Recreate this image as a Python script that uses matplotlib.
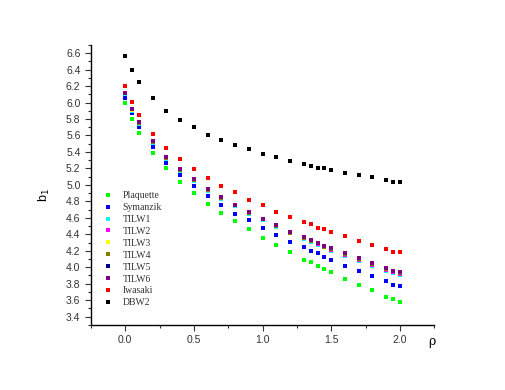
import matplotlib
matplotlib.use("Agg")
import matplotlib.pyplot as plt
from matplotlib.ticker import MultipleLocator

# rho values shared by all series
rho = [0, 0.05, 0.1, 0.2, 0.3, 0.4, 0.5, 0.6, 0.7, 0.8, 0.9, 1.0, 1.1, 1.2,
       1.3, 1.35, 1.4, 1.45, 1.5, 1.6, 1.7, 1.8, 1.9, 1.95, 2.0]

plaquette = [6.00, 5.80, 5.63, 5.39, 5.20, 5.03, 4.90, 4.77, 4.66, 4.56, 4.46, 4.36, 4.27,
             4.18, 4.09, 4.06, 4.02, 3.98, 3.94, 3.86, 3.79, 3.72, 3.64, 3.61, 3.58]
symanzik = [6.06, 5.87, 5.70, 5.46, 5.27, 5.12, 4.99, 4.86, 4.76, 4.65, 4.57, 4.48, 4.39,
            4.31, 4.24, 4.20, 4.17, 4.13, 4.09, 4.02, 3.96, 3.89, 3.83, 3.79, 3.77]
tilw1 = [6.10, 5.90, 5.74, 5.51, 5.32, 5.17, 5.05, 4.93, 4.83, 4.74, 4.65, 4.57, 4.49,
         4.41, 4.34, 4.31, 4.27, 4.24, 4.20, 4.14, 4.08, 4.02, 3.96, 3.93, 3.91]
tilw2 = [6.11, 5.91, 5.75, 5.52, 5.33, 5.18, 5.06, 4.94, 4.84, 4.75, 4.66, 4.58, 4.50,
         4.42, 4.35, 4.32, 4.28, 4.25, 4.21, 4.15, 4.09, 4.03, 3.97, 3.94, 3.92]
tilw3 = [6.11, 5.91, 5.75, 5.52, 5.33, 5.18, 5.06, 4.94, 4.84, 4.75, 4.66, 4.58, 4.50,
         4.42, 4.36, 4.32, 4.29, 4.25, 4.22, 4.16, 4.10, 4.04, 3.98, 3.95, 3.93]
tilw4 = [6.12, 5.92, 5.75, 5.52, 5.33, 5.18, 5.06, 4.94, 4.84, 4.75, 4.66, 4.58, 4.50,
         4.42, 4.36, 4.32, 4.29, 4.25, 4.22, 4.16, 4.10, 4.04, 3.98, 3.95, 3.93]
tilw5 = [6.12, 5.92, 5.76, 5.53, 5.34, 5.19, 5.07, 4.95, 4.85, 4.76, 4.67, 4.59, 4.51,
         4.43, 4.37, 4.33, 4.30, 4.26, 4.23, 4.17, 4.11, 4.05, 3.99, 3.96, 3.94]
tilw6 = [6.12, 5.92, 5.76, 5.53, 5.34, 5.19, 5.07, 4.95, 4.85, 4.76, 4.67, 4.59, 4.51,
         4.43, 4.37, 4.33, 4.30, 4.26, 4.23, 4.17, 4.11, 4.05, 3.99, 3.96, 3.94]
iwasaki = [6.20, 6.01, 5.85, 5.62, 5.45, 5.32, 5.19, 5.08, 4.99, 4.91, 4.82, 4.75, 4.67,
           4.61, 4.55, 4.52, 4.48, 4.46, 4.43, 4.38, 4.32, 4.27, 4.22, 4.19, 4.18]
dbw2 = [6.57, 6.39, 6.25, 6.05, 5.90, 5.79, 5.70, 5.61, 5.55, 5.49, 5.44, 5.38, 5.34,
        5.29, 5.25, 5.23, 5.21, 5.20, 5.18, 5.15, 5.12, 5.09, 5.06, 5.04, 5.03]

labels = ["Plaquette", "Symanzik", "TILW1", "TILW2", "TILW3", "TILW4",
          "TILW5", "TILW6", "Iwasaki", "DBW2"]
series = [plaquette, symanzik, tilw1, tilw2, tilw3, tilw4, tilw5, tilw6, iwasaki, dbw2]
colors = ["#00FF00", "#0000FF", "#00FFFF", "#FF00FF", "#FFFF00", "#808000",
          "#000080", "#800080", "#FF0000", "#000000"]

fig = plt.figure(figsize=(5.05, 3.9), dpi=100)
ax = fig.add_axes([0.18, 0.167, 0.68, 0.718])

for vals, lab, c in zip(series, labels, colors):
    ax.plot(rho, vals, ls="none", marker="s", ms=2.9, mew=0, color=c, label=lab)

ax.set_xlim(-0.25, 2.25)
ax.set_ylim(3.3, 6.7)
ax.xaxis.set_major_locator(MultipleLocator(0.5))
ax.xaxis.set_minor_locator(MultipleLocator(0.25))
ax.yaxis.set_major_locator(MultipleLocator(0.2))
ax.yaxis.set_minor_locator(MultipleLocator(0.1))
ax.spines["top"].set_visible(False)
ax.spines["right"].set_visible(False)
for s in ["left", "bottom"]:
    ax.spines[s].set_linewidth(1.0)
ax.tick_params(which="major", direction="out", length=4, width=0.8,
               labelsize=7.5, colors="#333333")
ax.tick_params(which="minor", direction="out", length=2, width=0.8, colors="#333333")
for lbl in ax.get_xticklabels() + ax.get_yticklabels():
    lbl.set_fontfamily("Liberation Sans")

ax.set_ylabel("b$_1$", fontsize=9, family="Liberation Sans")
ax.yaxis.set_label_coords(-0.113, 0.464)
fig.text(432 / 505, 1 - 341 / 390, "ρ", fontsize=9, family="DejaVu Serif",
         ha="center", va="center")

leg = ax.legend(loc="upper left", bbox_to_anchor=(0.02, 0.495), frameon=False,
                prop={"family": "Liberation Serif", "size": 7},
                handletextpad=0.85, labelspacing=0.3, handlelength=1.2,
                markerscale=1.0, borderpad=0)
for t in leg.get_texts():
    t.set_color("#333333")

fig.savefig("out.png", dpi=100)
